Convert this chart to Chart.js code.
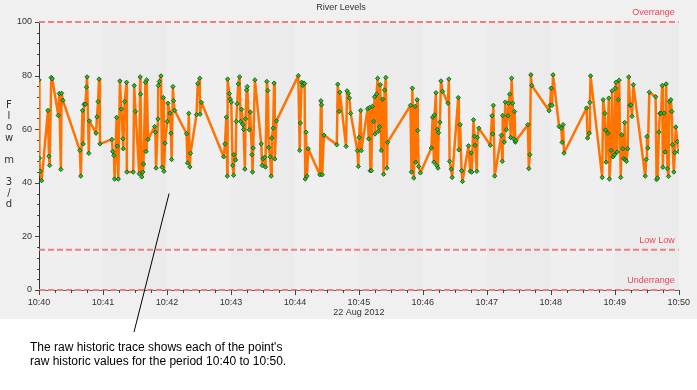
<!DOCTYPE html>
<html>
<head>
<meta charset="utf-8">
<script src="https://cdn.jsdelivr.net/npm/chart.js@4.4.1/dist/chart.umd.min.js"></script>
<style>
  html, body { margin: 0; padding: 0; background: #fff; }
  canvas { display: block; }
</style>
</head>
<body>
<canvas id="riverChart" width="697" height="390"></canvas>
<script>
const chartTitle = 'River Levels';
const dateLabel = '22 Aug 2012';
const axisTitle = 'Flow m 3/d';
const xTickLabels = ['10:40', '10:41', '10:42', '10:43', '10:44', '10:45', '10:46', '10:47', '10:48', '10:49', '10:50'];
const yTickValues = [0, 20, 40, 60, 80, 100];
const thresholdNames = ['Overrange', 'Low Low', 'Underrange'];
const thresholdValues = [100, 15, 0];
const noteLines = [
  "The raw historic trace shows each of the point's",
  'raw historic values for the period 10:40 to 10:50.'
];
// where the note's pointer touches the chart (seconds after 10:40, flow)
const noteAnchor = [122, 36];

// raw trace, seconds after 10:40:00
const traceSeconds = [
  0, 0.4, 1, 2.5, 8.4, 9.3, 10, 11.5, 12.4, 18.1, 19, 20.5, 21.2, 22.4, 38.3, 39.2, 40.8, 41.4, 42.3, 43.6,
  44.5, 45.1, 46.7, 47.3, 53.5, 54.4, 55.4, 56.3, 57.2, 68.4, 69.1, 70.3, 70.9, 72.8, 73.4, 74.4, 75.9, 77.2, 78.7, 79,
  80.3, 82.1, 82.4, 88.4, 89.3, 90.5, 94, 94.9, 95.2, 96.4, 97.4, 98,
  99.8, 100.4, 101, 102.3, 108.5, 109.1, 109.8, 111.6, 111.9, 112.9, 114.4, 115.4, 116.6, 117.2, 118.2, 120.3, 120.9, 122.8,
  123.7, 124.4, 125.6, 126.2, 127.2, 138.4, 139.3, 140.5, 141.5, 142.1, 147.7, 148.9, 150.8, 151.1, 152.4, 173.2, 174.4, 175.7,
  176.6, 176.9, 178.5, 179.4, 180.3, 181.6, 182.5, 182.8, 184.4, 185, 185.9, 186.9, 188.1, 189.1, 190, 191.2, 191.9, 193.1,
  193.7, 194.7, 195.3,
  197.2, 198.1, 199.7, 200.3, 200.9, 202.5, 208.4, 209.3, 210.2, 211.5, 212.4, 213.7, 214.6, 215.5, 216.8, 217.7, 218.3, 219.6,
  220.5, 221.1, 222.7, 243.2, 244.5, 245.1, 246.3, 247.2, 248.2, 249.1, 249.7, 250.4, 251.3, 252.5, 263.4, 264.4, 265, 265.6,
  267.2, 279.3, 280.2, 281.5, 282.1, 288, 288.9, 290.2, 291.1, 292.3,
  298.6, 299.5, 300.2, 301.7, 302.3, 308.2, 309.2, 310.1, 310.7, 311.7, 312.6, 313.8, 314.8, 315.1, 316.6, 317.6, 318.2, 319.4,
  320.1, 321, 322.2, 323.2, 324.1, 325.3, 326.3, 326.9, 348.4, 349.3, 350.2, 351.5, 352.7, 353.3, 354.6, 355.2, 356.1, 357.7,
  368, 369.2, 370.4, 371, 372.3, 372.9, 373.5, 374.2, 374.8, 376, 377, 378.5, 383.5, 384.4, 385.1, 386.6, 387.5,
  393.2, 393.8, 395, 396.3, 397.2, 402.8, 404.4, 405.3, 405.9, 407.5, 408.4, 409, 410.6, 411.2, 412.5, 423.3, 424.9, 425.5,
  426.1, 427.4, 433.6, 434.5, 434.9, 436.4, 437.3, 438.3, 439.8, 440.4, 441.4, 442.3, 443.2, 444.2, 445.1, 446, 446.7, 447.3,
  458.5, 459.4, 460.4, 461.3, 462.2, 478.4, 479.3, 480.3, 481.2, 482.1,
  487.8, 489.9, 490.6, 491.5, 492.4, 513.6, 514.5, 516.1, 516.7, 517.3, 528.2, 529.1, 530.7, 531.3, 531.9, 533.5, 534.4, 535,
  536.6, 537.5, 538.4, 539.7, 540.6, 541.2, 542.2, 543.4, 544.1, 545.6, 546.5, 547.5, 548.4, 549.3, 550, 550.9, 552.1, 553.1,
  554.3, 555.2, 556.2, 557.4, 568.6, 569.5, 570.2, 571.1, 572.4, 578.3, 579.2, 580.1, 581.4, 582.3, 583.5, 584.5, 585.1, 586.3,
  587.3, 588.2, 589.4, 590.4, 591.3, 592.6, 593.5, 594.1, 595.4, 596.3, 597.2, 598.8, 600
];
const traceValues = [
  78.4, 49.2, 44.3, 40.8, 67, 49.9, 46.5, 79.3, 78.8, 65.1, 73.3, 45, 73.4, 70.8, 52.1, 42.5, 67, 54.5, 69.3, 69.3,
  75.7, 79.5, 51, 63.1, 58.5, 64.6, 70.3, 78.7, 54.5, 56.2, 51.7, 50.2, 41.4, 64.4, 53.7, 41.4, 78, 67.5, 56.4, 52.7,
  70.3, 77.5, 44, 44, 76.3, 66.6, 43.4, 79.5, 73.1, 42.2, 44, 47,
  77.5, 51.7, 78.4, 56.2, 61, 58.9, 45.5, 63.8, 76.3, 77.8, 79.9, 45.8, 71.8, 44.3, 54.8, 62.9, 69.7, 66,
  58.5, 48.7, 75.9, 70.6, 67, 58.3, 47.4, 65.9, 45.9, 51, 65.4, 77, 79, 65.6, 70, 49.7, 54.5, 64.5,
  42.5, 78.7, 73.3, 71.2, 70.1, 46.5, 42.8, 50.5, 48.5, 62.9, 69.5, 76.9, 79.5, 62.9, 67.4, 61.7, 59.9, 45.1,
  63.9, 74.6, 75.9,
  59.8, 66.4, 50.5, 44, 53, 78.4, 54.5, 46.5, 49, 49.5, 45.9, 77.8, 74.4, 53.2, 49.7, 42.5, 56.7, 60.4,
  77.2, 48.9, 63.1, 80, 52.1, 62.3, 77.5, 76.3, 77.2, 77, 41.4, 58.9, 42.5, 52.7, 43, 70.6, 69.1, 43,
  57.8, 54.2, 76.8, 66.6, 73.8, 53.6, 74.3, 73.4, 71.6, 65.9,
  52, 46.1, 56.9, 67, 52, 67.6, 56.4, 68.1, 44.5, 44.5, 68.5, 62.9, 72.1, 58.2, 73.1, 79, 59.2, 60.9,
  76.6, 52.1, 71.2, 43.2, 74.6, 79.3, 45.5, 55.1, 68.9, 44, 75.3, 41.8, 68.5, 47.7, 71, 59.5, 46.1, 43.7,
  53, 64.5, 47.7, 65.3, 73.6, 46.5, 59.9, 45.5, 58.7, 62.6, 78, 74.1, 69.7, 78.7, 48, 45.1, 42,
  71.8, 52.3, 61.7, 44.5, 40.5, 53.8, 44.3, 51.2, 44, 63.5, 57.4, 54, 44.3, 56.9, 60.4, 54, 65, 58.2,
  68.9, 42.5, 57.7, 48, 65.1, 55.2, 70.1, 59.8, 65, 69.7, 73.1, 56.9, 79, 69.7, 56.4, 66.6, 55.2, 55.7,
  61.7, 45.3, 50.5, 80.3, 76.3, 66.9, 68.9, 75.3, 68.9, 80.3,
  61, 60.4, 55.1, 61.7, 51.1, 67.9, 56.7, 58.5, 70, 79.9, 42, 71, 65.9, 59.7, 47.7, 58.5, 71.6, 41.4,
  52.1, 74.3, 49.7, 50.5, 75.3, 77.5, 51.5, 71, 78.3, 42, 57.9, 52.7, 49, 62.5, 48.6, 48, 52.7, 79.5,
  68.9, 69.1, 64.8, 76.6, 42.5, 48.7, 57.3, 53, 73.8, 72.1, 41.2, 41.8, 58.9, 65.9, 65.9, 76.3, 45.8, 66,
  51.5, 76.9, 45.3, 42.4, 70.3, 71, 66.6, 54.2, 44, 51.3, 60.8, 55.4, 51.6
];

const minuteSeconds = 60;
const xMax = (xTickLabels.length - 1) * minuteSeconds;

const tracePoints = traceSeconds.map((s, i) => ({ x: s, y: traceValues[i] }));

Chart.defaults.font.family = "'Liberation Sans', Arial, sans-serif";
Chart.defaults.font.size = 9;
Chart.defaults.color = '#333';

// background, minute bands, tick marks, labels and the note
const decor = {
  id: 'decor',
  beforeDraw(chart) {
    const { ctx, chartArea: a, scales: { x } } = chart;
    ctx.save();
    ctx.fillStyle = '#ffffff';
    ctx.fillRect(0, 0, chart.width, chart.height);
    ctx.fillStyle = '#f0f0f0';
    ctx.fillRect(0, 0, chart.width, x.bottom);
    for (let i = 0; i < xTickLabels.length - 1; i++) {
      const l = x.getPixelForValue(i * minuteSeconds);
      const r = x.getPixelForValue((i + 1) * minuteSeconds);
      ctx.fillStyle = i % 2 ? '#ebebeb' : '#efefef';
      ctx.fillRect(l, a.top, r - l, a.bottom - a.top);
    }
    ctx.restore();
  },
  afterDraw(chart) {
    const { ctx, chartArea: a, scales: { x, y } } = chart;
    ctx.save();
    ctx.strokeStyle = '#444';
    ctx.lineWidth = 1;
    ctx.beginPath();
    for (let s = 0; s <= xMax; s += 15) {
      const px = Math.round(x.getPixelForValue(s)) + 0.5;
      ctx.moveTo(px, a.bottom);
      ctx.lineTo(px, a.bottom + (s % minuteSeconds === 0 ? 5 : 3));
    }
    for (let v = 0; v <= 100; v += 4) {
      const py = Math.round(y.getPixelForValue(v)) + 0.5;
      ctx.moveTo(a.left, py);
      ctx.lineTo(a.left - (v % 20 === 0 ? 4 : 2), py);
    }
    ctx.stroke();

    // threshold names
    ctx.font = "9px 'Liberation Sans', Arial, sans-serif";
    ctx.fillStyle = '#e8465a';
    ctx.textAlign = 'right';
    ctx.textBaseline = 'middle';
    thresholdNames.forEach((name, i) => {
      ctx.fillText(name, a.right - 4, y.getPixelForValue(thresholdValues[i]) - 9.5);
    });

    // stacked y axis title
    ctx.font = "10px 'DejaVu Sans', sans-serif";
    ctx.fillStyle = '#333';
    ctx.textAlign = 'center';
    const chars = axisTitle.split('');
    const midY = (a.top + a.bottom) / 2 - 1.5;
    chars.forEach((c, i) => {
      ctx.fillText(c, 9, midY + (i - (chars.length - 1) / 2) * 11);
    });

    // note and pointer
    ctx.strokeStyle = '#000';
    ctx.beginPath();
    ctx.moveTo(x.getPixelForValue(noteAnchor[0]), y.getPixelForValue(noteAnchor[1]));
    ctx.lineTo(134, 332);
    ctx.stroke();
    ctx.font = "12px 'Liberation Sans', Arial, sans-serif";
    ctx.fillStyle = '#000';
    ctx.textAlign = 'left';
    ctx.textBaseline = 'alphabetic';
    noteLines.forEach((line, i) => ctx.fillText(line, 30, 350.5 + i * 14));
    ctx.restore();
  }
};

const thresholdSets = thresholdValues.map(v => ({
  data: [{ x: 0, y: v }, { x: xMax, y: v }],
  borderColor: 'rgb(240,128,128)',
  borderWidth: 2,
  borderDash: [6, 3],
  pointRadius: 0,
  clip: false,
  order: 1
}));

new Chart(document.getElementById('riverChart'), {
  type: 'line',
  data: {
    datasets: [{
      label: 'trace',
      data: tracePoints,
      borderColor: '#ff7300',
      borderWidth: 2.5,
      borderJoinStyle: 'round',
      tension: 0,
      pointStyle: 'rectRot',
      pointRadius: 2.2,
      pointBackgroundColor: '#1cc81c',
      pointBorderColor: '#1f3f1f',
      pointBorderWidth: 0.8,
      order: 0
    }, ...thresholdSets]
  },
  options: {
    responsive: false,
    animation: false,
    devicePixelRatio: 1,
    layout: { padding: { left: 0, right: 15, top: 0, bottom: 71 } },
    plugins: {
      legend: { display: false },
      tooltip: { enabled: false },
      title: {
        display: true,
        text: chartTitle,
        color: '#333',
        font: { size: 9, weight: 'normal' },
        padding: { top: 2.6, bottom: 8.6 }
      }
    },
    scales: {
      x: {
        type: 'linear',
        min: 0,
        max: xMax,
        afterFit: s => { s.height = 29; },
        afterBuildTicks: s => { s.ticks = xTickLabels.map((_, i) => ({ value: i * minuteSeconds })); },
        ticks: { padding: 7, autoSkip: false, maxRotation: 0, callback: (v, i) => xTickLabels[i] },
        grid: { drawOnChartArea: false, drawTicks: false },
        border: { color: '#666' },
        title: { display: true, text: dateLabel, color: '#333', padding: { top: 0, bottom: 1 } }
      },
      y: {
        min: 0,
        max: 100,
        afterFit: s => { s.width = 39; },
        afterBuildTicks: s => { s.ticks = yTickValues.map(v => ({ value: v })); },
        ticks: { padding: 7 },
        grid: { drawOnChartArea: false, drawTicks: false },
        border: { color: '#333' }
      }
    }
  },
  plugins: [decor]
});
</script>
</body>
</html>
